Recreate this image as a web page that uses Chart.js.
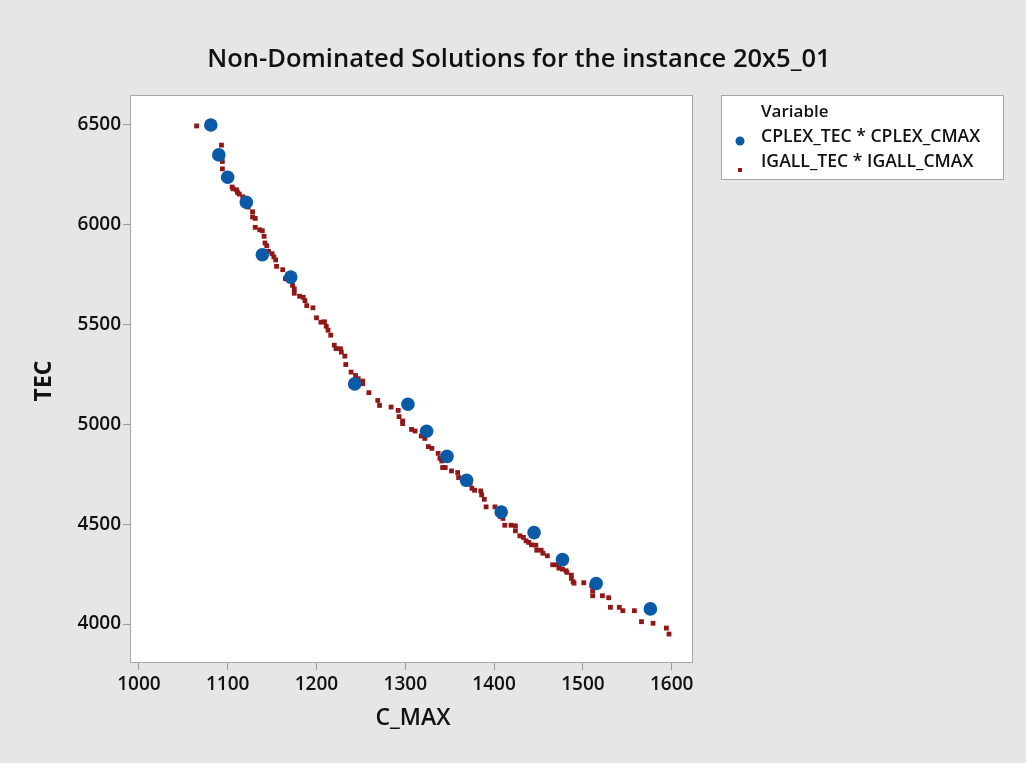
<!DOCTYPE html>
<html>
<head>
<meta charset="utf-8">
<script src="https://cdn.jsdelivr.net/npm/chart.js@4.4.0/dist/chart.umd.min.js"></script>
<style>
  html, body { margin: 0; padding: 0; background: #e6e6e6; }
  #wrap { width: 1026px; height: 763px; }
</style>
</head>
<body>
<div id="wrap"><canvas id="paretoChart" width="1026" height="763"></canvas></div>
<script>
// Solutions CPLEX (points bleus)
const cplexCmax = [1081, 1090, 1100, 1121, 1139, 1171, 1243, 1303, 1324, 1347, 1369, 1408, 1445, 1477, 1515, 1576];
const cplexTec  = [6500, 6350, 6238, 6113, 5850, 5738, 5203, 5101, 4966, 4840, 4720, 4561, 4458, 4323, 4203, 4076];

// Solutions IGALL (petits carrés rouges)
const igallCmax = [1065, 1093, 1093, 1094, 1094, 1098, 1105, 1106, 1110, 1111, 1113, 1117, 1118, 1120, 1123,
  1128, 1128, 1131, 1131, 1136, 1139, 1141, 1142, 1144, 1146, 1150, 1152, 1154, 1155, 1162,
  1165, 1170, 1173, 1175, 1175, 1181, 1185, 1187, 1189, 1196, 1200, 1205, 1209, 1211, 1213,
  1216, 1220, 1222, 1227, 1228, 1232, 1233, 1239, 1244, 1247, 1252, 1252, 1259, 1269, 1271,
  1284, 1292, 1293, 1297, 1297, 1307, 1311, 1318, 1322, 1326, 1330, 1337, 1339, 1341, 1342,
  1345, 1352, 1359, 1360, 1367, 1373, 1375, 1378, 1385, 1386, 1389, 1391, 1401, 1404, 1407,
  1410, 1412, 1419, 1424, 1424, 1429, 1433, 1436, 1439, 1442, 1447, 1448, 1453, 1455, 1460,
  1466, 1471, 1473, 1477, 1481, 1482, 1487, 1487, 1489, 1490, 1501, 1510, 1511, 1511, 1522,
  1529, 1531, 1541, 1545, 1558, 1566, 1579, 1594, 1597];
const igallTec = [6495, 6399, 6350, 6317, 6280, 6247, 6189, 6180, 6175, 6162, 6154, 6140, 6127, 6109, 6089,
  6065, 6039, 6032, 5987, 5975, 5970, 5942, 5909, 5895, 5867, 5855, 5839, 5824, 5792, 5775,
  5730, 5722, 5697, 5679, 5657, 5642, 5637, 5620, 5595, 5584, 5534, 5512, 5514, 5492, 5472,
  5447, 5397, 5380, 5379, 5362, 5342, 5300, 5262, 5245, 5229, 5217, 5204, 5159, 5120, 5095,
  5087, 5070, 5039, 5017, 5004, 4975, 4967, 4942, 4930, 4889, 4880, 4855, 4830, 4817, 4784,
  4784, 4767, 4759, 4734, 4725, 4705, 4680, 4670, 4667, 4647, 4625, 4587, 4587, 4572, 4539,
  4529, 4495, 4495, 4492, 4467, 4442, 4434, 4417, 4409, 4397, 4395, 4370, 4370, 4355, 4342,
  4297, 4297, 4280, 4275, 4267, 4259, 4245, 4229, 4212, 4205, 4207, 4192, 4167, 4142, 4142,
  4132, 4084, 4084, 4067, 4067, 4012, 4004, 3980, 3950];

// Graduations
const xTicks = [1000, 1100, 1200, 1300, 1400, 1500, 1600];
const yTicks = [4000, 4500, 5000, 5500, 6000, 6500];

const FONT = "'Open Sans', 'Noto Sans', sans-serif";
const BLUE = "#0a5aa8";
const RED = "#901818";

function toPoints(xs, ys) {
  return xs.map((x, i) => ({ x: x, y: ys[i] }));
}

/* Fond, cadre, titres et légende */
const decor = {
  id: "decor",
  beforeDraw(chart) {
    const { ctx, chartArea: a } = chart;
    ctx.save();
    ctx.fillStyle = "#e6e6e6";
    ctx.fillRect(0, 0, chart.width, chart.height);
    ctx.fillStyle = "#ffffff";
    ctx.fillRect(a.left, a.top, a.right - a.left, a.bottom - a.top);
    ctx.restore();
  },
  afterDraw(chart) {
    const { ctx, chartArea: a } = chart;
    ctx.save();
    // cadre du graphique
    ctx.strokeStyle = "#a6a6a6";
    ctx.lineWidth = 1;
    ctx.strokeRect(a.left + 0.5, a.top + 0.5, a.right - a.left - 1, a.bottom - a.top - 1);

    ctx.fillStyle = "#111111";
    ctx.textAlign = "center";
    ctx.textBaseline = "middle";
    ctx.font = "600 25.5px " + FONT;
    ctx.fillText("Non-Dominated Solutions for the instance 20x5_01", 519, 60);

    ctx.font = "600 23px " + FONT;
    ctx.fillText("C_MAX", 413, 718);
    ctx.save();
    ctx.translate(44, 381);
    ctx.rotate(-Math.PI / 2);
    ctx.font = "bold 23px " + FONT;
    ctx.fillText("TEC", 0, 0);
    ctx.restore();

    // légende
    ctx.fillStyle = "#ffffff";
    ctx.fillRect(721, 95, 282, 84);
    ctx.strokeStyle = "#a6a6a6";
    ctx.strokeRect(721.5, 95.5, 282, 84);
    ctx.fillStyle = "#111111";
    ctx.textAlign = "left";
    ctx.font = "600 17px " + FONT;
    ctx.fillText("Variable", 761, 112);
    ctx.font = "600 17.6px " + FONT;
    chart.data.datasets.forEach((ds, i) => {
      const y = 137 + i * 25;
      ctx.fillStyle = "#111111";
      ctx.fillText(ds.label, 761, y);
      ctx.fillStyle = ds.backgroundColor;
      if (ds.pointStyle === "circle") {
        ctx.beginPath();
        ctx.arc(740, y + 4, 4.5, 0, Math.PI * 2);
        ctx.fill();
      } else {
        ctx.fillRect(738, y + 6, 4, 4);
      }
    });
    ctx.restore();
  },
};

const ctx = document.getElementById("paretoChart").getContext("2d");
const paretoChart = new Chart(ctx, {
  type: "scatter",
  data: {
    datasets: [
      {
        label: "CPLEX_TEC * CPLEX_CMAX",
        data: toPoints(cplexCmax, cplexTec),
        pointStyle: "circle",
        pointRadius: 6.8,
        backgroundColor: BLUE,
        borderColor: BLUE,
        borderWidth: 0,
      },
      {
        label: "IGALL_TEC * IGALL_CMAX",
        data: toPoints(igallCmax, igallTec),
        pointStyle: "rect",
        pointRadius: 3.4,
        backgroundColor: RED,
        borderColor: RED,
        borderWidth: 0,
      },
    ],
  },
  options: {
    responsive: false,
    animation: false,
    layout: { padding: { left: 0, top: 95, right: 333, bottom: 0 } },
    plugins: {
      legend: { display: false },
      title: { display: false },
      tooltip: { enabled: false },
    },
    scales: {
      x: {
        type: "linear",
        min: 990,
        max: 1624,
        afterBuildTicks: (s) => { s.ticks = xTicks.map((v) => ({ value: v })); },
        afterFit: (s) => { s.height = 100; },
        border: { display: false },
        grid: { drawOnChartArea: false, drawTicks: true, tickLength: 7, color: "#9a9a9a" },
        ticks: {
          color: "#111111",
          padding: 3,
          font: { family: FONT, size: 19, weight: "600" },
          callback: (v) => String(v),
        },
      },
      y: {
        type: "linear",
        min: 3805,
        max: 6650,
        afterBuildTicks: (s) => { s.ticks = yTicks.map((v) => ({ value: v })); },
        afterFit: (s) => { s.width = 130; },
        border: { display: false },
        grid: { drawOnChartArea: false, drawTicks: true, tickLength: 7, color: "#9a9a9a" },
        ticks: {
          color: "#111111",
          padding: 2,
          font: { family: FONT, size: 19, weight: "600" },
          callback: (v) => String(v),
        },
      },
    },
  },
  plugins: [decor],
});
</script>
</body>
</html>
